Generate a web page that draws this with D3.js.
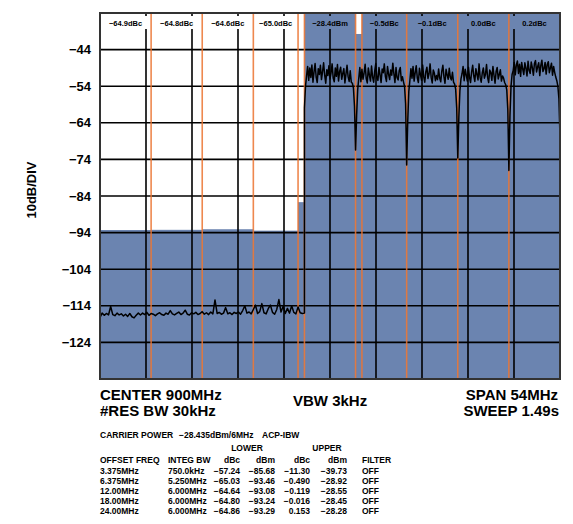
<!DOCTYPE html>
<html>
<head>
<meta charset="utf-8">
<script src="https://cdn.jsdelivr.net/npm/d3@7"></script>
<style>
  html, body { margin: 0; padding: 0; background: #fff; }
  text { font-family: "Liberation Sans", Arial, sans-serif; font-weight: bold; fill: #000; }
</style>
</head>
<body>
<svg id="chart" width="573" height="524"></svg>
<script>
// analyzer settings
const centerMHz = 900;
const spanMHz = 54;
const refLevel = -34;
const dbPerDiv = 10;
const yTicks = [-44, -54, -64, -74, -84, -94, -104, -114, -124];

// ACP measurement table
const carrierPower = -28.435;
const carrierBw = 6;
const offsetFreq = [3.375, 6.375, 12.0, 18.0, 24.0];
const integBw = [0.75, 5.25, 6.0, 6.0, 6.0];
const lowerDbc = [-57.24, -65.03, -64.64, -64.80, -64.86];
const lowerDbm = [-85.68, -93.46, -93.08, -93.24, -93.29];
const upperDbc = [-11.30, -0.490, -0.119, -0.016, 0.153];
const upperDbm = [-39.73, -28.92, -28.55, -28.45, -28.28];
const offsetLabels = ['3.375MHz', '6.375MHz', '12.00MHz', '18.00MHz', '24.00MHz'];
const bwLabels = ['750.0kHz', '5.250MHz', '6.000MHz', '6.000MHz', '6.000MHz'];
const lowerDbcLabels = ['−57.24', '−65.03', '−64.64', '−64.80', '−64.86'];
const lowerDbmLabels = ['−85.68', '−93.46', '−93.08', '−93.24', '−93.29'];
const upperDbcLabels = ['−11.30', '−0.490', '−0.119', '−0.016', '0.153'];
const upperDbmLabels = ['−39.73', '−28.92', '−28.55', '−28.45', '−28.28'];
const filterLabels = ['OFF', 'OFF', 'OFF', 'OFF', 'OFF'];

// trace below the carrier, dBm, 873MHz to 897MHz every 0.25MHz
const floorStart = 873;
const floorStep = 0.25;
const floorDbm = [
  -117.2, -116.0, -116.6, -116.1, -116.5, -114.2, -116.4, -116.7, -116.0, -116.5,
  -116.2, -116.8, -116.3, -116.9, -116.1, -117.0, -117.3, -116.6, -116.0, -116.5,
  -116.0, -116.4, -115.8, -116.6, -116.1, -116.3, -116.7, -116.2, -115.9, -116.4,
  -116.6, -116.0, -116.3, -115.3, -116.2, -116.5, -116.1, -115.7, -116.4, -116.0,
  -115.2, -116.3, -116.5, -115.9, -116.2, -115.8, -116.4, -116.1, -115.6, -116.3,
  -115.9, -116.4, -115.7, -116.2, -112.4, -116.1, -115.8, -116.3, -116.0, -114.5,
  -116.2, -115.9, -116.4, -115.8, -116.1, -115.7, -116.3, -115.3, -114.0, -116.0,
  -115.7, -116.2, -115.0, -113.8, -116.1, -115.6, -113.4, -115.9, -116.2, -114.8,
  -113.8, -115.8, -116.3, -115.0, -112.3, -115.7, -114.1, -116.1, -114.7, -116.0,
  -114.0, -115.8, -116.2, -114.3, -115.9, -116.1, -116.0
];

// trace over the carriers, dBm, 897MHz to 927MHz every 0.125MHz
const carrierStart = 897;
const carrierStep = 0.125;
const carrierDbm = [
  -60.0, -54.0, -51.2, -48.6, -52.4, -49.0, -51.6, -48.2, -52.9, -50.1,
  -47.8, -51.5, -53.0, -49.2, -50.8, -48.3, -52.2, -50.0, -47.6, -51.0,
  -53.2, -49.5, -51.1, -48.4, -52.0, -50.3, -47.9, -51.8, -52.8, -49.0,
  -51.3, -48.1, -52.6, -50.0, -48.8, -52.1, -50.5, -49.2, -53.1, -50.7,
  -48.3, -51.4, -52.7, -49.8, -52.9, -53.2, -54.5, -59.5, -71.4,
  -62.0, -55.0, -51.9, -48.9, -52.8, -49.4, -52.1, -50.4, -48.0, -51.9,
  -53.1, -49.0, -51.0, -52.6, -48.5, -51.5, -52.9, -49.9, -47.8, -51.8,
  -52.4, -48.9, -50.9, -53.0, -49.3, -50.3, -47.9, -51.3, -52.7, -48.6,
  -50.7, -52.2, -49.6, -51.0, -47.7, -50.6, -53.0, -48.9, -51.7, -52.3,
  -49.8, -48.9, -52.5, -51.4, -52.8, -54.0, -58.8, -75.5,
  -63.5, -55.5, -52.5, -49.2, -51.8, -48.6, -52.6, -50.3, -48.4, -51.8,
  -53.0, -49.1, -50.9, -52.4, -48.2, -51.4, -52.9, -50.0, -48.8, -51.9,
  -50.6, -47.9, -51.6, -53.1, -49.6, -50.4, -52.5, -51.1, -52.2,
  -49.3, -51.8, -52.8, -49.9, -48.3, -51.4, -53.2, -49.4, -50.9, -52.1,
  -49.1, -51.6, -52.3, -50.2, -52.9, -53.4, -54.8, -60.0, -73.6,
  -62.5, -55.2, -52.0, -50.6, -48.6, -52.5, -49.4, -51.0, -52.6, -48.8,
  -51.5, -53.0, -50.1, -48.3, -51.2, -52.7, -49.2, -50.8, -52.3, -47.9,
  -51.6, -52.9, -50.4, -49.0, -51.8, -50.8, -48.1, -51.6, -53.0, -49.6,
  -50.2, -52.4, -48.6, -51.0, -53.2, -50.0, -48.9, -52.0, -50.8, -49.5,
  -52.6, -51.2, -51.8, -53.0, -53.6, -55.0, -60.5, -77.0,
  -62.0, -54.0, -50.8, -49.8, -47.5, -50.9, -48.2, -47.1, -50.5, -48.0,
  -51.3, -47.5, -49.3, -50.8, -47.6, -49.1, -51.2, -47.2, -49.7, -50.5,
  -47.4, -48.9, -51.0, -47.8, -47.0, -50.1, -48.7, -47.6, -51.1, -48.3,
  -46.9, -50.0, -49.2, -47.5, -50.7, -48.1, -47.3, -50.3, -49.0, -47.7,
  -51.0, -48.6, -50.2, -51.5, -52.5, -54.0, -57.5, -68.0
];

const BLUE = '#6b84b0';
const ORANGE = '#ec7430';
const plot = { left: 100, right: 560, top: 13, bottom: 379 };

const svg = d3.select('#chart');
const fmin = centerMHz - spanMHz / 2;
const fmax = centerMHz + spanMHz / 2;
const x = d3.scaleLinear().domain([fmin, fmax]).range([plot.left, plot.right]);
const y = d3.scaleLinear().domain([refLevel - 10 * dbPerDiv, refLevel]).range([plot.bottom, plot.top]);
const minus = (s) => s.replace('-', '−');

// integration bands, lower side, carrier, upper side
const bands = [];
offsetFreq.forEach((off, i) => {
  bands.push({ f0: centerMHz - off - integBw[i] / 2, f1: centerMHz - off + integBw[i] / 2, dbm: lowerDbm[i], dbc: lowerDbc[i], unit: 'dBc' });
  bands.push({ f0: centerMHz + off - integBw[i] / 2, f1: centerMHz + off + integBw[i] / 2, dbm: upperDbm[i], dbc: upperDbc[i], unit: 'dBc' });
});
bands.push({ f0: centerMHz - carrierBw / 2, f1: centerMHz + carrierBw / 2, dbm: carrierPower, dbc: carrierPower, unit: 'dBm' });

svg.append('clipPath').attr('id', 'plot-clip')
  .append('rect')
  .attr('x', plot.left).attr('y', plot.top)
  .attr('width', plot.right - plot.left).attr('height', plot.bottom - plot.top);

const g = svg.append('g').attr('clip-path', 'url(#plot-clip)');

g.selectAll('rect.band')
  .data(bands)
  .join('rect')
  .attr('class', 'band')
  .attr('x', (d) => x(d.f0))
  .attr('width', (d) => x(d.f1) - x(d.f0))
  .attr('y', (d) => Math.max(plot.top, y(d.dbm)))
  .attr('height', (d) => plot.bottom - Math.max(plot.top, y(d.dbm)))
  .attr('fill', BLUE);

// graticule
const xGrid = d3.range(1, 10).map((i) => fmin + i * spanMHz / 10);
const labelRowBottom = plot.top + 16;
g.selectAll('line.vgrid')
  .data(xGrid)
  .join('line')
  .attr('class', 'vgrid')
  .attr('x1', (d) => x(d)).attr('x2', (d) => x(d))
  .attr('y1', labelRowBottom).attr('y2', plot.bottom)
  .attr('stroke', '#000').attr('stroke-width', 1.6);
g.selectAll('line.vtick')
  .data(xGrid)
  .join('line')
  .attr('class', 'vtick')
  .attr('x1', (d) => x(d)).attr('x2', (d) => x(d))
  .attr('y1', plot.top).attr('y2', plot.top + 3)
  .attr('stroke', '#000').attr('stroke-width', 1.6);
g.selectAll('line.hgrid')
  .data(yTicks)
  .join('line')
  .attr('class', 'hgrid')
  .attr('x1', plot.left).attr('x2', plot.right)
  .attr('y1', (d) => y(d)).attr('y2', (d) => y(d))
  .attr('stroke', '#000').attr('stroke-width', 1.6);

// band edges
const edges = Array.from(new Set(bands.flatMap((b) => [b.f0, b.f1]).map((f) => +f.toFixed(3))))
  .filter((f) => f > fmin && f < fmax);
g.selectAll('line.edge')
  .data(edges)
  .join('line')
  .attr('class', 'edge')
  .attr('x1', (d) => x(d)).attr('x2', (d) => x(d))
  .attr('y1', plot.top).attr('y2', plot.bottom)
  .attr('stroke', ORANGE).attr('stroke-width', 1.6).attr('opacity', 0.85);

// trace
const tracePts = floorDbm.map((v, i) => [floorStart + i * floorStep, v])
  .concat(carrierDbm.map((v, i) => [carrierStart + i * carrierStep, v]));
const line = d3.line()
  .x((d) => x(d[0]))
  .y((d) => y(d[1]));
g.append('path')
  .datum(tracePts)
  .attr('d', line)
  .attr('fill', 'none')
  .attr('stroke', '#000')
  .attr('stroke-width', 1.5)
  .attr('stroke-linejoin', 'round');

// band readouts along the top row
const fmtBand = (d) => {
  let v = d.dbc.toFixed(1);
  if (v === '-0.0') v = '0.0';
  return minus(v) + d.unit;
};
svg.append('g')
  .selectAll('text')
  .data(bands.filter((b) => b.f1 - b.f0 > 1))
  .join('text')
  .attr('x', (d) => x((d.f0 + d.f1) / 2))
  .attr('y', plot.top + 13)
  .attr('text-anchor', 'middle')
  .attr('font-size', 7.5)
  .text(fmtBand);

svg.append('rect')
  .attr('x', plot.left).attr('y', plot.top)
  .attr('width', plot.right - plot.left).attr('height', plot.bottom - plot.top)
  .attr('fill', 'none').attr('stroke', '#333').attr('stroke-width', 2);

// y axis
svg.append('g')
  .selectAll('text')
  .data(yTicks)
  .join('text')
  .attr('x', 91)
  .attr('y', (d) => y(d) + 4.5)
  .attr('text-anchor', 'end')
  .attr('font-size', 13)
  .text((d) => minus(String(d)));

svg.append('text')
  .attr('transform', 'translate(36,190) rotate(-90)')
  .attr('text-anchor', 'middle')
  .attr('font-size', 13)
  .text(`${dbPerDiv}dB/DIV`);

// settings block
const big = [
  { t: `CENTER ${centerMHz}MHz`, x: 100, y: 400, a: 'start' },
  { t: '#RES BW 30kHz', x: 100, y: 416, a: 'start' },
  { t: 'VBW 3kHz', x: 293, y: 406, a: 'start' },
  { t: `SPAN ${spanMHz}MHz`, x: 558, y: 400, a: 'end' },
  { t: 'SWEEP 1.49s', x: 559, y: 416, a: 'end' }
];
svg.append('g')
  .selectAll('text')
  .data(big)
  .join('text')
  .attr('x', (d) => d.x).attr('y', (d) => d.y)
  .attr('text-anchor', (d) => d.a)
  .attr('font-size', 15)
  .text((d) => d.t);

const small = svg.append('g').attr('font-size', 8.5);
const put = (t, px, py, anchor = 'start') => small.append('text')
  .attr('x', px).attr('y', py).attr('text-anchor', anchor).text(t);

put('CARRIER POWER', 100, 438);
put(`${minus(carrierPower.toFixed(3))}dBm/${carrierBw}MHz`, 179, 438);
put('ACP-IBW', 262, 438);
put('LOWER', 247, 451, 'middle');
put('UPPER', 327, 451, 'middle');

const cols = [
  { h: 'OFFSET FREQ', v: offsetLabels, x: 100, a: 'start' },
  { h: 'INTEG BW', v: bwLabels, x: 168, a: 'start' },
  { h: 'dBc', v: lowerDbcLabels, x: 240, a: 'end' },
  { h: 'dBm', v: lowerDbmLabels, x: 275, a: 'end' },
  { h: 'dBc', v: upperDbcLabels, x: 310, a: 'end' },
  { h: 'dBm', v: upperDbmLabels, x: 347, a: 'end' },
  { h: 'FILTER', v: filterLabels, x: 362, a: 'start' }
];
cols.forEach((c) => {
  put(c.h, c.x, 463, c.a);
  c.v.forEach((v, i) => put(v, c.x, 474 + i * 10, c.a));
});
</script>
</body>
</html>
